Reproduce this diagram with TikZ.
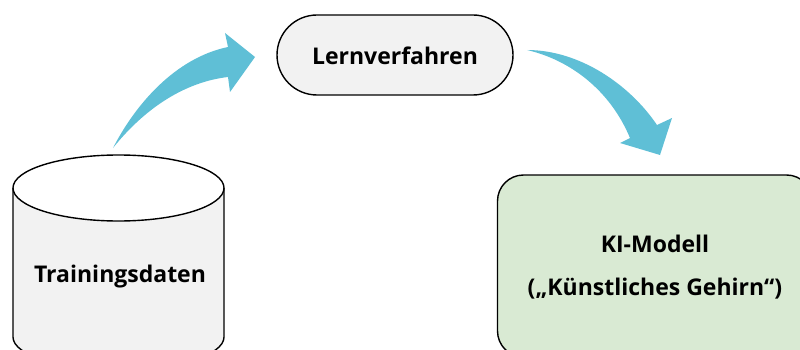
\documentclass[tikz,border=0pt]{standalone}
\usepackage{fontspec}
\setmainfont{Open Sans}
\usetikzlibrary{calc}
\definecolor{flowblue}{HTML}{5FBFD6}
\definecolor{boxgray}{HTML}{F2F2F2}
\definecolor{modelgreen}{HTML}{D9EAD3}
\tikzset{
  outline/.style={draw=black, line width=1.4pt},
  label/.style={font=\bfseries\fontsize{23}{28}\selectfont, align=center, inner sep=0pt},
  flowarrow/.style={fill=flowblue, draw=none}
}
\begin{document}
\begin{tikzpicture}[x=1pt,y=-1pt]
  \useasboundingbox (0,0) rectangle (800,350);
  \begin{scope}
    \clip (0,0) rectangle (800,350);
    % data store (cylinder)
    \path[fill=boxgray] (13,188) -- (13,337) arc[start angle=180, end angle=0, x radius=105.5, y radius=33]
      -- (224,188) arc[start angle=0, end angle=180, x radius=105.5, y radius=33] -- cycle;
    \draw[outline] (13,188) -- (13,337) arc[start angle=180, end angle=0, x radius=105.5, y radius=33] -- (224,188);
    \draw[outline] (118.5,188) ellipse[x radius=105.5, y radius=33];
    \node[label] (train) at (120,277) {Trainingsdaten};

    % learning method
    \node[outline, fill=boxgray, rounded corners=40pt, minimum width=236pt, minimum height=80pt,
          inner sep=0pt] (learn) at (395,55) {};
    \node[label] (learntxt) at (395,56) {Lernverfahren};

    % resulting model
    \node[outline, fill=modelgreen, rounded corners=26pt, minimum width=315pt, minimum height=182pt,
          inner sep=0pt] (model) at (655,266) {};
    \node[label, font=\bfseries\fontsize{23}{43}\selectfont] (modeltxt) at (655,267)
      {KI-Modell\\(„Künstliches Gehirn“)};

    % curved block arrows
    \fill[flowarrow] (113,148) .. controls (135,105) and (175,58) .. (228,47)
      -- (225,33) -- (255,57) -- (230,92) -- (228,77)
      .. controls (185,82) and (145,108) .. (113,148) -- cycle;
    \fill[flowarrow] (527,50) .. controls (580,50) and (630,85) .. (657,125)
      -- (672,118) -- (660,155) -- (620,143) -- (630,138)
      .. controls (610,90) and (570,60) .. (527,50) -- cycle;
  \end{scope}
\end{tikzpicture}
\end{document}
